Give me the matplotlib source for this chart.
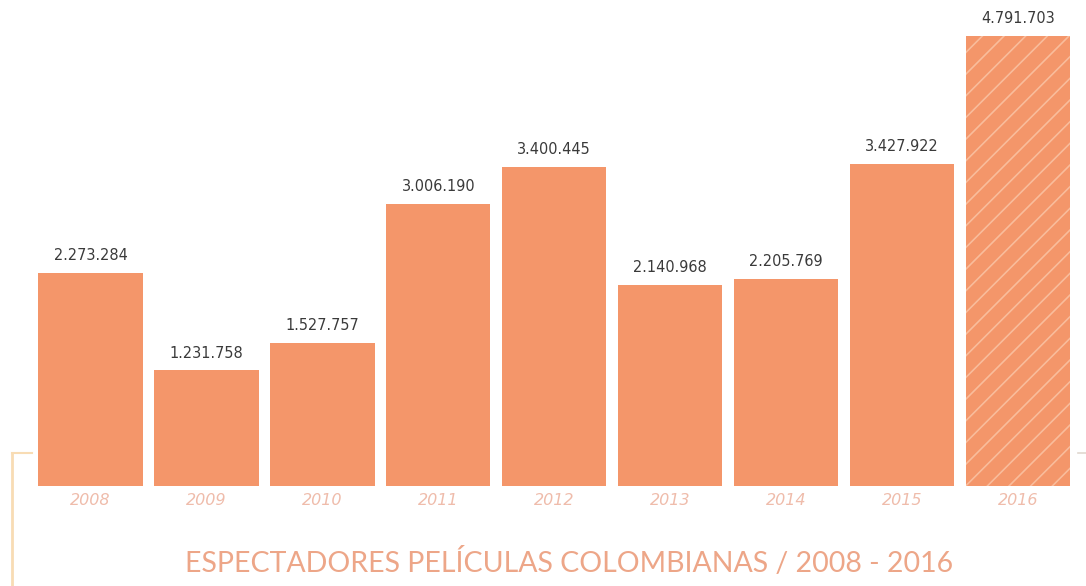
import matplotlib
matplotlib.use("Agg")
import matplotlib.pyplot as plt
from matplotlib.lines import Line2D

years = ["2008", "2009", "2010", "2011", "2012", "2013", "2014", "2015", "2016"]
spectators = [2273284, 1231758, 1527757, 3006190, 3400445, 2140968, 2205769, 3427922, 4791703]
labels = ["2.273.284", "1.231.758", "1.527.757", "3.006.190", "3.400.445",
          "2.140.968", "2.205.769", "3.427.922", "4.791.703"]
title = "ESPECTADORES PELÍCULAS COLOMBIANAS / 2008 - 2016"

W, H = 1086, 586
DPI = 130
S = 100.0 / DPI  # keep sizes as if drawn at 100 dpi
fig = plt.figure(figsize=(W / DPI, H / DPI), dpi=DPI)
fig.patch.set_facecolor("white")

left_px, right_px = 32.5, 1076
bottom_px, top_px = 486, 16.4
ax = fig.add_axes([left_px / W, 1 - bottom_px / H, (right_px - left_px) / W, (bottom_px - top_px) / H])
ax.set_xlim(-0.5, len(years) - 0.5)
ymax = spectators[-1] * (bottom_px - top_px) / 450.0
ax.set_ylim(0, ymax)
ax.axis("off")

bar_color = "#f4966a"
plt.rcParams["hatch.linewidth"] = 0.9
x = list(range(len(years)))
bars = ax.bar(x, spectators, width=0.9, color=bar_color, edgecolor="none")
bars[-1].set_hatch("//")
bars[-1].set_edgecolor("#f9bd9c")
bars[-1].set_linewidth(0)

for xi, v, lab in zip(x, spectators, labels):
    ax.annotate(lab, (xi, v), xytext=(0, 7 * S), textcoords="offset points",
                ha="center", va="bottom", fontsize=10.5 * S, color="#3a3a3a",
                family="DejaVu Sans")

for xi, yr in zip(x, years):
    ax.annotate(yr, (xi, 0), xytext=(0, -5 * S), textcoords="offset points",
                ha="center", va="top", fontsize=11.5 * S, color="#efbcab",
                style="italic", family="DejaVu Sans")

fig.text(569 / W, 1 - 563 / H, title, ha="center", va="center",
         fontsize=20.5 * S, color="#eda688", family="Lato")

# bracket decorations
line_col = "#f8dcb4"
fig.add_artist(Line2D([12 / W, 12 / W], [1 - 453 / H, 0], color=line_col, lw=2 * S))
fig.add_artist(Line2D([12 / W, 32 / W], [1 - 453 / H, 1 - 453 / H], color=line_col, lw=1.5 * S))
fig.add_artist(Line2D([1078 / W, 1], [1 - 453 / H, 1 - 453 / H], color="#e0d8d0", lw=1.2 * S))

fig.savefig("out.png", dpi=DPI, facecolor="white")
